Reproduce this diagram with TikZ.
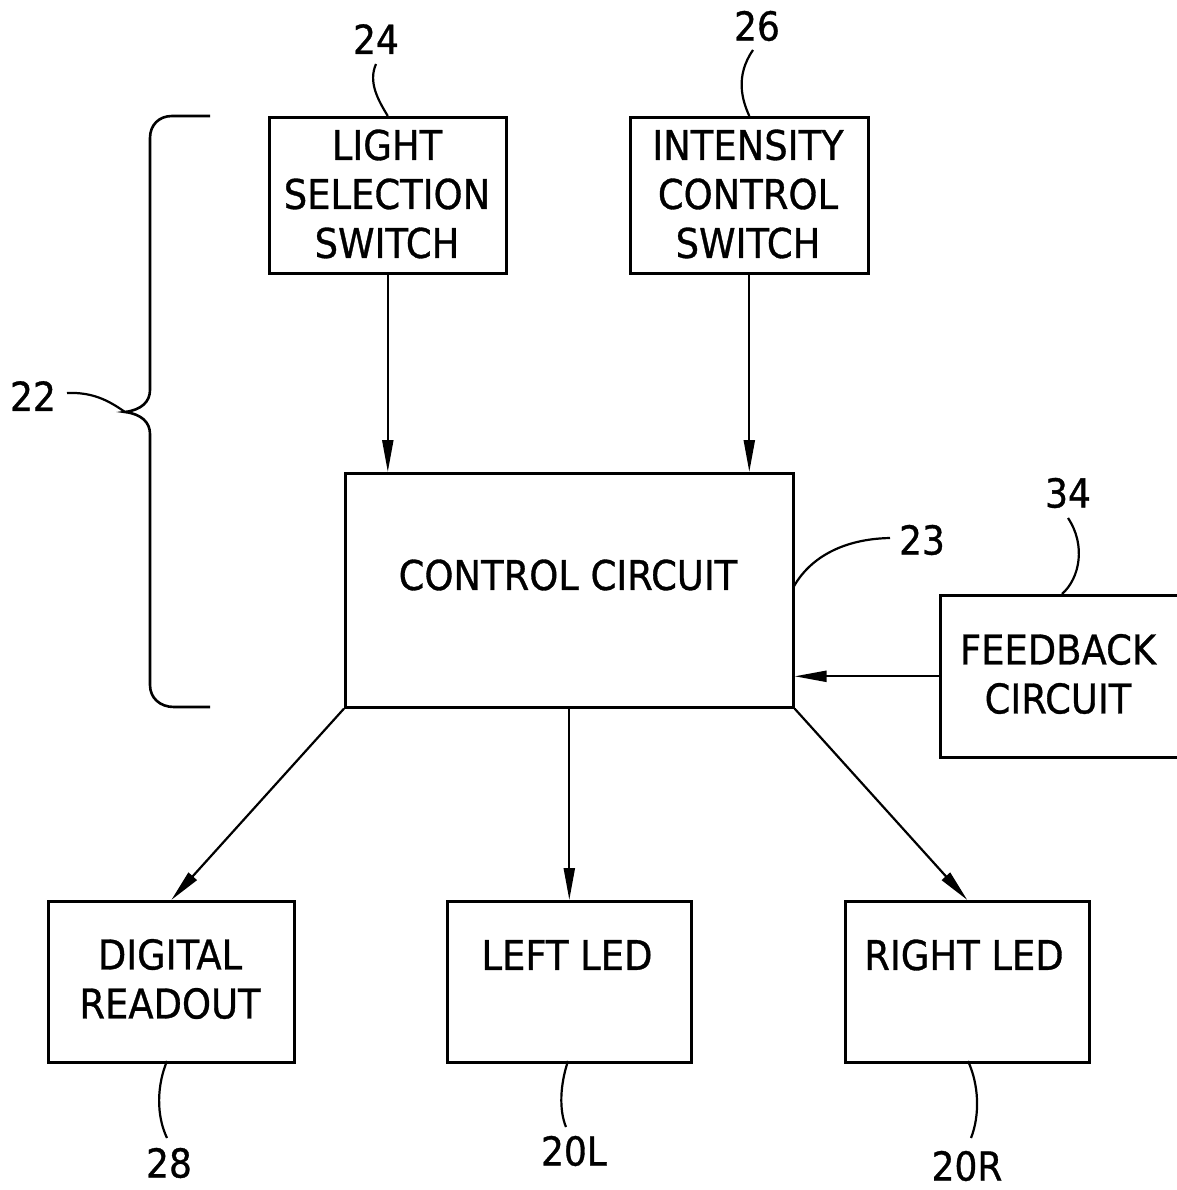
\documentclass[tikz,border=0pt]{standalone}
\usepackage{fontspec}
\setmainfont{DejaVu Sans}[FakeStretch=0.9,FakeBold=0.8]
\usetikzlibrary{arrows.meta}
\begin{document}
\begin{tikzpicture}[x=1pt,y=-1pt,
  box/.style={draw,line width=2.6pt,inner sep=0pt,anchor=north west},
  txt/.style={align=center,font=\fontsize{41}{49}\selectfont,inner sep=0pt},
  num/.style={font=\fontsize{40}{48}\selectfont,inner sep=0pt},
  conn/.style={line width=2.2pt,-{Triangle[length=32pt,width=11pt]}},
  lead/.style={line width=2.2pt},
  brace/.style={line width=2.6pt}
]
\useasboundingbox (0,0) rectangle (1176,1190);

% boxes
\node[box,minimum width=237pt,minimum height=156pt] (ls) at (268,116) {};
\node[box,minimum width=238pt,minimum height=156pt] (ic) at (629,116) {};
\node[box,minimum width=448pt,minimum height=234pt] (cc) at (344,472) {};
\node[box,minimum width=250pt,minimum height=162pt] (fb) at (939,594) {};
\node[box,minimum width=246pt,minimum height=161pt] (dr) at (47,900) {};
\node[box,minimum width=244pt,minimum height=161pt] (ll) at (446,900) {};
\node[box,minimum width=244pt,minimum height=161pt] (rl) at (844,900) {};

% box texts
\node[txt] (lsT) at (387,194) {LIGHT\\SELECTION\\SWITCH};
\node[txt] (icT) at (748,194) {INTENSITY\\CONTROL\\SWITCH};
\node[txt] (ccT) at (568,575) {CONTROL CIRCUIT};
\node[txt] (fbT) at (1058,674) {FEEDBACK\\CIRCUIT};
\node[txt] (drT) at (170,979) {DIGITAL\\READOUT};
\node[txt] (llT) at (567,955) {LEFT LED};
\node[txt] (rlT) at (964,955) {RIGHT LED};

% connectors
\draw[conn] (ls.south) -- (ls.south |- cc.north);
\draw[conn] (ic.south) -- (ic.south |- cc.north);
\draw[conn] (fb.west) -- (cc.east |- fb.west);
\draw[conn] (cc.south west) -- (dr.north);
\draw[conn] (cc.south) -- (ll.north);
\draw[conn] (cc.south east) -- (rl.north);

% brace 22
\coordinate (btip) at (125,412);
\draw[brace] (210,116) -- (172,116) .. controls (159,116) and (150,125) .. (150,138)
  -- (150,390) .. controls (150,402) and (141,410) .. (btip)
  .. controls (141,414) and (150,422) .. (150,434)
  -- (150,685) .. controls (150,698) and (160,707) .. (174,707) -- (210,707);

% reference numerals
\node[num] (n22) at (33,396) {22};
\node[num] (n24) at (376,39) {24};
\node[num] (n26) at (757,26) {26};
\node[num] (n23) at (922,540) {23};
\node[num] (n34) at (1068,493) {34};
\node[num] (n28) at (169,1163) {28};
\node[num] (n20L) at (574,1151) {20L};
\node[num] (n20R) at (967,1166) {20R};

% leaders
\coordinate (l22) at (67,393);
\coordinate (l24) at (376,64);
\coordinate (l26) at (753,50);
\coordinate (c23) at (793,588);
\coordinate (l23) at (890,538);
\coordinate (c34) at (1062,594);
\coordinate (l34) at (1068,518);
\coordinate (c28) at (167,1061);
\coordinate (l28) at (167,1138);
\coordinate (c20L) at (568,1061);
\coordinate (l20L) at (566,1127);
\coordinate (c20R) at (968,1061);
\coordinate (l20R) at (971,1138);

\draw[lead] (l22) .. controls (92,392) and (108,400) .. (btip);
\draw[lead] (ls.north) .. controls (378,100) and (368,82) .. (l24);
\draw[lead] (ic.north) .. controls (742,100) and (735,76) .. (l26);
\draw[lead] (c23) .. controls (808,560) and (840,539) .. (l23);
\draw[lead] (c34) .. controls (1080,578) and (1086,545) .. (l34);
\draw[lead] (c28) .. controls (157,1085) and (156,1115) .. (l28);
\draw[lead] (c20L) .. controls (560,1085) and (559,1110) .. (l20L);
\draw[lead] (c20R) .. controls (979,1085) and (980,1115) .. (l20R);
\end{tikzpicture}
\end{document}
